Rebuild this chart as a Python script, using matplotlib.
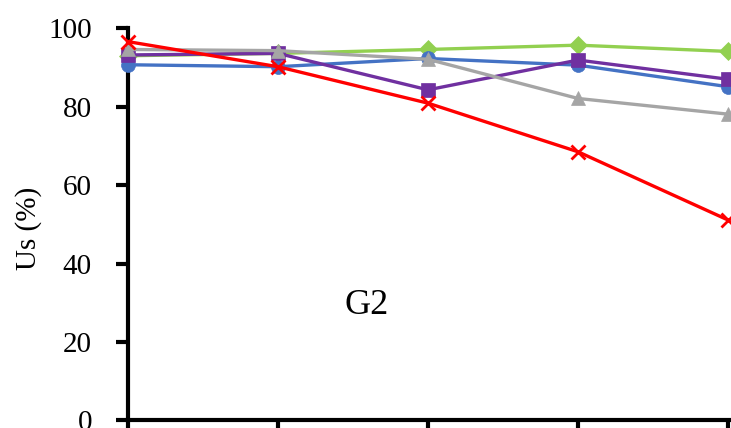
import numpy as np
import matplotlib
matplotlib.use('Agg')
import matplotlib.pyplot as plt

plt.rcParams['font.family'] = ['Liberation Serif', 'DejaVu Serif']

# data
x = [1, 2, 3, 4, 5]
blue_circle = [90.7, 90.2, 92.3, 90.6, 85.1]
green_diamond = [93.0, 93.6, 94.6, 95.7, 94.1]
purple_square = [93.2, 93.6, 84.3, 91.9, 87.0]
gray_triangle = [94.6, 94.3, 92.1, 82.1, 78.1]
red_cross = [96.6, 90.2, 80.9, 68.5, 51.1]
y_ticks = [0, 20, 40, 60, 80, 100]

W, H = 731, 428
fig = plt.figure(figsize=(W / 100, H / 100), dpi=100)
# axis runs off the right edge, x=5 sits at pixel 728
x0, x5 = 128, 728
y0, y100 = 420.3, 28.3
unit = (x5 - x0) / 4
ax_w = 5 * unit
ax = fig.add_axes([x0 / W, (H - y0) / H, ax_w / W, (y0 - y100) / H])
ax.set_xlim(1, 6)
ax.set_ylim(0, 100)

series = [
    (green_diamond, '#92D050', 'D', 9),
    (blue_circle, '#4472C4', 'o', 10),
    (purple_square, '#7030A0', 's', 10),
    (gray_triangle, '#A5A5A5', '^', 10),
    (red_cross, '#FF0000', 'x', 10),
]
for vals, col, mk, ms in series:
    ax.plot(x, vals, color=col, lw=2.4, marker=mk, markersize=ms,
            markeredgewidth=2 if mk == 'x' else 0.5, markeredgecolor=col,
            clip_on=False, zorder=3)

ax.spines['top'].set_visible(False)
ax.spines['right'].set_visible(False)
for s in ['left', 'bottom']:
    ax.spines[s].set_linewidth(3)
ax.set_xticks([1, 2, 3, 4, 5, 6])
ax.set_yticks(y_ticks)
ax.tick_params(axis='x', direction='out', length=10, width=3, labelbottom=False)
ax.tick_params(axis='y', direction='out', length=9, width=3, labelsize=21, pad=17)
ax.set_ylabel('Us (%)', fontsize=21, va='center')
ax.yaxis.set_label_coords((29 - x0) / ax_w, 0.49)

ax.text(2.59, 29.4, 'G2', fontsize=26, ha='center', va='center')

fig.savefig('out.png', dpi=100)
